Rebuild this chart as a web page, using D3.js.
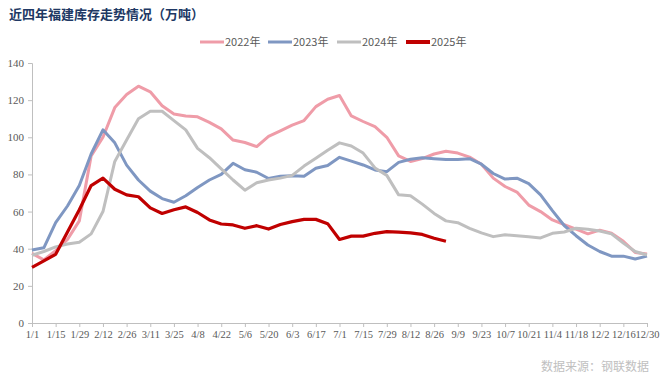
<!DOCTYPE html>
<html>
<head>
	<meta charset="utf-8">
	<title>近四年福建库存走势情况</title>
	<style>
		body { margin: 0; background: #fff; }
	</style>
</head>
<body>
	<svg width="660" height="375"></svg>
</body>
<script src="https://cdn.jsdelivr.net/npm/d3@7/dist/d3.min.js"></script>
<script>
	//周度日期（53周）
	let weeks = ["1/1","1/8","1/15","1/22","1/29","2/5","2/12","2/19","2/26","3/4","3/11","3/18","3/25",
		"4/1","4/8","4/15","4/22","4/29","5/6","5/13","5/20","5/27","6/3","6/10","6/17","6/24",
		"7/1","7/8","7/15","7/22","7/29","8/5","8/12","8/19","8/26","9/2","9/9","9/16","9/23","9/30",
		"10/7","10/14","10/21","10/28","11/4","11/11","11/18","11/25","12/2","12/9","12/16","12/23","12/30"]
	//y轴刻度
	let yTicks = [0, 20, 40, 60, 80, 100, 120, 140]

	//各年库存（万吨）
	let y2022 = [37.5,34,39,45,55,90,100,116,123,127.5,124.5,117,112.5,111.5,111,108,104.5,98.5,97.2,95,
		100.5,103.5,106.5,109,116.5,120.5,122.5,111.5,108.5,105.7,100,90,87,88.5,91,92.5,91.5,89.3,85.5,78,
		73.5,70.5,63.5,60,55.5,53,50.5,48,50,48.3,44,38,37.2]
	let y2023 = [39.3,40.5,54,63,74,91,104,97,85,77,71,67,65,68.5,73,77,80,86,82.5,81.2,
		77.8,79,79.3,79,83.3,84.8,89.2,87.2,85.1,82.4,81.5,86.5,88.2,89,88.5,88,88,88.5,85.5,80.5,
		77.5,78,75,69,60.5,52.5,47,42,38.5,36,36,34.5,36]
	let y2024 = [36.5,38.5,41,42.5,43.5,48,60,87,98.5,110,114,114,109,104,94,89,83,77,71.5,75.5,
		77,78,79.5,84.5,88.7,93,97,95.3,91.5,83.5,79.5,69,68.5,64,59,55,54,51,48.5,46.5,
		47.5,47,46.5,45.8,48.3,49,51,50.5,49.5,48,43,38.5,36.6]
	let y2025 = [30,33.5,37,49,61,74,78,72,69,68,62,59,61,62.5,59.5,55.5,53.3,52.8,51,52.4,
		50.6,53,54.6,55.8,55.8,53.5,45,46.8,46.8,48.3,49.2,48.9,48.5,47.7,45.6,44]

	let names = ["2022年", "2023年", "2024年", "2025年"]
	let colors = ["#EF9CA8", "#7F97C2", "#BFBFBF", "#C00000"]
	let widths = [3, 3, 3, 3.2]

	let svg = d3.select("svg")
	let fontCN = "'Noto Sans CJK SC', sans-serif"
	let fontNum = "'Liberation Serif', 'Times New Roman', serif"

	//比例尺
	let x = d3.scalePoint().domain(weeks).range([32, 647])
	let y = d3.scaleLinear().domain([0, 140]).range([323, 63])

	//标题
	svg.append("text")
		.attr("x", 9).attr("y", 19)
		.attr("font-family", fontCN).attr("font-size", "13px").attr("font-weight", "bold")
		.attr("fill", "#203864")
		.text("近四年福建库存走势情况（万吨）")

	//y轴
	let yAxis = svg.append("g")
		.attr("transform", "translate(32,0)")
		.call(d3.axisLeft(y).tickValues(yTicks).tickSize(4).tickPadding(4))
	yAxis.select(".domain").attr("stroke", "#BFBFBF")
	yAxis.selectAll(".tick line").attr("stroke", "#BFBFBF")
	yAxis.selectAll("text")
		.attr("font-family", fontNum).attr("font-size", "11px").attr("fill", "#595959")

	//x轴
	let xAxis = svg.append("g")
		.attr("transform", "translate(0,323)")
		.call(d3.axisBottom(x).tickValues(weeks.filter((d, i) => i % 2 == 0)).tickSize(4).tickPadding(4).tickSizeOuter(0))
	xAxis.select(".domain").attr("stroke", "#BFBFBF")
	xAxis.selectAll(".tick line").attr("stroke", "#BFBFBF")
	xAxis.selectAll("text")
		.attr("font-family", fontNum).attr("font-size", "10.5px").attr("fill", "#595959")

	//折线
	let line = d3.line()
		.x((d, i) => x(weeks[i]))
		.y(d => y(d))
	let series = [y2022, y2023, y2024, y2025]
	series.forEach((s, k) => {
		svg.append("path")
			.attr("fill", "none").attr("stroke", colors[k])
			.attr("stroke-width", widths[k])
			.attr("stroke-linejoin", "round")
			.attr("d", line(s))
	})

	//图例
	let legX = [200, 268, 337, 406]
	let leg = svg.append("g")
	names.forEach((n, k) => {
		leg.append("line")
			.attr("x1", legX[k]).attr("x2", legX[k] + 24)
			.attr("y1", 42).attr("y2", 42)
			.attr("stroke", colors[k]).attr("stroke-width", k == 3 ? 4 : 3)
		leg.append("text")
			.attr("x", legX[k] + 25).attr("y", 46)
			.attr("font-family", fontCN).attr("font-size", "11px").attr("fill", "#595959")
			.text(n)
	})

	//数据来源
	svg.append("text")
		.attr("x", 649).attr("y", 371)
		.attr("text-anchor", "end")
		.attr("font-family", fontCN).attr("font-size", "12px").attr("fill", "#C0C0C0")
		.text("数据来源：钢联数据")
</script>
</html>
